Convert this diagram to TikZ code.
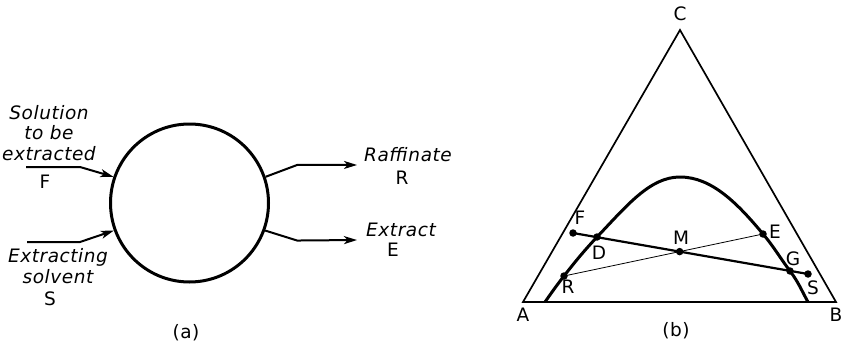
\documentclass[tikz,border=0pt]{standalone}
\usepackage{fontspec}
\setmainfont{DejaVu Sans}[LetterSpace=3]
\usetikzlibrary{arrows.meta, positioning, calc, intersections}

\begin{document}
\begin{tikzpicture}[
    x=1pt, y=-1pt,
    every node/.style={font=\fontsize{18.5}{21}\selectfont},
    note/.style={align=center, inner sep=0pt, font=\fontsize{18.5}{20.5}\selectfont\itshape},
    letter/.style={inner sep=0pt},
    vessel/.style={circle, draw, line width=3pt, minimum size=158pt, inner sep=0pt},
    stream/.style={line width=2pt, -{Stealth[length=13pt, width=8pt, inset=3.5pt]}},
    side/.style={line width=1.7pt},
    binodal/.style={line width=3pt},
    tie/.style={line width=2.2pt},
    thinline/.style={line width=0.8pt},
    dot/.style={circle, fill, inner sep=0pt, minimum size=7.5pt}
]
\useasboundingbox (0,0) rectangle (846,348);

% (a) single extraction stage
\node[vessel] (stage) at (189.5,203) {};
\node[note] (feedtxt) at (49,133) {Solution\\to be\\extracted};
\node[letter] (feedF) at (45,182) {F};
\node[note] (solvtxt) at (58,266) {Extracting\\solvent};
\node[letter] (solvS) at (50,299) {S};
\node[note] (raftxt) at (408,155) {Raffinate};
\node[letter] (rafR) at (402,178) {R};
\node[note] (exttxt) at (401,230) {Extract};
\node[letter] (extE) at (393,250) {E};
\node (capa) at (186,333) {(a)};

\coordinate (feedin) at (26,167);
\coordinate (solvin) at (27,242);
\coordinate (rafout) at (357,165);
\coordinate (extout) at (357,240);
\draw[stream] (feedin) -- ++(54,0) -- (stage.161);
\draw[stream] (solvin) -- ++(53,0) -- (stage.200);
\draw[stream] (stage.19) -- ++(32,-12) -- (rafout);
\draw[stream] (stage.-20) -- ++(32,10) -- (extout);

% (b) triangular diagram
\coordinate (A) at (523,302);
\coordinate (B) at (836,302);
\coordinate (C) at (680,30);
\draw[side] (A) -- (B) -- (C) -- cycle;
\node (labA) at (523,315) {A};
\node (labB) at (836,315) {B};
\node (labC) at (680,14) {C};

\coordinate (F) at (573,233);
\coordinate (S) at (808,274);
\coordinate (R) at (564,276);
\coordinate (D) at (597,237);
\coordinate (E) at (763,234);
\coordinate (G) at (790,271);
\coordinate (M) at (intersection of F--S and R--E);

% solubility curve
\draw[binodal] (545,302) to[out=55,in=232] (R) to[out=52,in=227] (D)
    .. controls (627,205.5) and (650,177) .. (680,177)
    .. controls (712,177) and (738,204) .. (E)
    to[out=-50,in=127] (G) to[out=-53,in=119] (808,302);

\draw[tie] (F) -- (S);
\draw[thinline] (R) -- (E);

\foreach \p in {F,S,R,D,E,G,M}
    \node[dot] (dot\p) at (\p) {};

\node[letter] (labF) at (580,218) {F};
\node[letter] (labD) at (599,253) {D};
\node[letter] (labR) at (568,287) {R};
\node[letter] (labE) at (775,232) {E};
\node[letter] (labG) at (793,259) {G};
\node[letter] (labS) at (813,288) {S};
\node[letter] (labM) at (681,238) {M};
\node (capb) at (676,331) {(b)};
\end{tikzpicture}
\end{document}
